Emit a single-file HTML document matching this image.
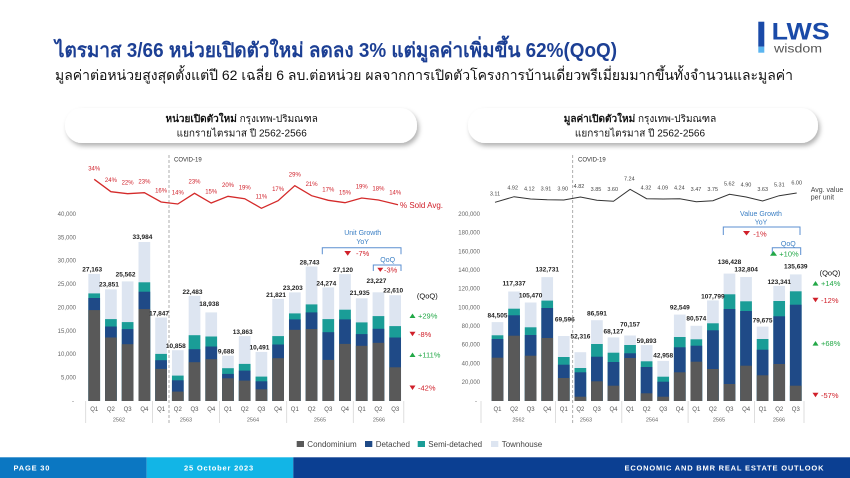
<!DOCTYPE html>
<html>
<head>
<meta charset="utf-8">
<style>
html,body{margin:0;padding:0;background:#fff;}
body{width:850px;height:478px;overflow:hidden;}
svg{display:block;}
text{font-family:"Liberation Sans","DejaVu Sans",sans-serif;}
.c{fill:#595959}.d{fill:#1f4a87}.s{fill:#1a9d97}.t{fill:#dde5f1}
.ax{font-size:6px;fill:#666;}
.q{font-size:6px;fill:#555;text-anchor:middle;}
.yr{font-size:5.5px;fill:#666;text-anchor:middle;}
.v{font-size:6.5px;font-weight:bold;fill:#222;text-anchor:middle;}
.p{font-size:6px;fill:#d0202a;text-anchor:middle;}
.a{font-size:5.5px;fill:#444;text-anchor:middle;}
.red{fill:#d0202a;}.grn{fill:#23a847;}
.bl{font-size:7px;fill:#3b7fc4;text-anchor:middle;}
.qq{font-size:7.5px;}
.ft{font-size:7.5px;font-weight:bold;fill:#fff;letter-spacing:0.8px;}
</style>
</head>
<body>
<svg width="850" height="478" viewBox="0 0 850 478" xmlns="http://www.w3.org/2000/svg">
<defs>
<filter id="sh" x="-10%" y="-40%" width="120%" height="200%">
<feDropShadow dx="2" dy="3" stdDeviation="2.5" flood-color="#000" flood-opacity="0.3"/>
</filter>
</defs>
<rect width="850" height="478" fill="#fff"/>

<!-- Title -->
<text x="55" y="57" font-size="20" font-weight="bold" fill="#1c3f94" textLength="562" lengthAdjust="spacingAndGlyphs">ไตรมาส 3/66 หน่วยเปิดตัวใหม่ ลดลง 3% แต่มูลค่าเพิ่มขึ้น 62%(QoQ)</text>
<text x="55" y="80" font-size="14" fill="#111" textLength="738" lengthAdjust="spacingAndGlyphs">มูลค่าต่อหน่วยสูงสุดตั้งแต่ปี 62 เฉลี่ย 6 ลบ.ต่อหน่วย ผลจากการเปิดตัวโครงการบ้านเดี่ยวพรีเมี่ยมมากขึ้นทั้งจำนวนและมูลค่า</text>

<!-- Logo -->
<rect x="758.3" y="21.7" width="6" height="25" fill="#1a4aa8"/>
<rect x="758.3" y="46.7" width="6" height="6" fill="#5bb5f0"/>
<text x="771.7" y="39.3" font-size="24" font-weight="bold" fill="#1a4aa8" textLength="58" lengthAdjust="spacingAndGlyphs">LWS</text>
<text x="774" y="52.5" font-size="11.5" fill="#555" textLength="48" lengthAdjust="spacingAndGlyphs">wisdom</text>

<!-- Pills -->
<rect x="65" y="108" width="352" height="35" rx="17" fill="#fff" filter="url(#sh)"/>
<rect x="468" y="108" width="350" height="35" rx="17" fill="#fff" filter="url(#sh)"/>
<text x="241.7" y="122" font-size="10" text-anchor="middle" fill="#111"><tspan font-weight="bold">หน่วยเปิดตัวใหม่</tspan> กรุงเทพ-ปริมณฑล</text>
<text x="241.7" y="136.5" font-size="10" text-anchor="middle" fill="#111">แยกรายไตรมาส ปี 2562-2566</text>
<text x="640" y="122" font-size="10" text-anchor="middle" fill="#111"><tspan font-weight="bold">มูลค่าเปิดตัวใหม่</tspan> กรุงเทพ-ปริมณฑล</text>
<text x="640" y="136.5" font-size="10" text-anchor="middle" fill="#111">แยกรายไตรมาส ปี 2562-2566</text>

<!-- ================= LEFT CHART ================= -->
<g class="ax" text-anchor="end">
<text x="76" y="216">40,000</text>
<text x="76" y="239.3">35,000</text>
<text x="76" y="262.7">30,000</text>
<text x="76" y="286">25,000</text>
<text x="76" y="309.4">20,000</text>
<text x="76" y="332.8">15,000</text>
<text x="76" y="356.2">10,000</text>
<text x="76" y="379.6">5,000</text>
<text x="74" y="403">-</text>
</g>

<!-- bars left -->
<g>
<rect class="t" x="88.35" y="273.9" width="11.7" height="127.1"/><rect class="s" x="88.35" y="293.4" width="11.7" height="107.6"/><rect class="d" x="88.35" y="298.0" width="11.7" height="103.0"/><rect class="c" x="88.35" y="310.1" width="11.7" height="90.9"/>
<rect class="t" x="105.07" y="289.4" width="11.7" height="111.6"/><rect class="s" x="105.07" y="319.1" width="11.7" height="81.9"/><rect class="d" x="105.07" y="326.5" width="11.7" height="74.5"/><rect class="c" x="105.07" y="337.5" width="11.7" height="63.5"/>
<rect class="t" x="121.79" y="281.4" width="11.7" height="119.6"/><rect class="s" x="121.79" y="322.1" width="11.7" height="78.9"/><rect class="d" x="121.79" y="329.1" width="11.7" height="71.9"/><rect class="c" x="121.79" y="344.2" width="11.7" height="56.8"/>
<rect class="t" x="138.51" y="242.0" width="11.7" height="159.0"/><rect class="s" x="138.51" y="282.3" width="11.7" height="118.7"/><rect class="d" x="138.51" y="291.7" width="11.7" height="109.3"/><rect class="c" x="138.51" y="309.1" width="11.7" height="91.9"/>
<rect class="t" x="155.23" y="317.5" width="11.7" height="83.5"/><rect class="s" x="155.23" y="353.9" width="11.7" height="47.1"/><rect class="d" x="155.23" y="360.2" width="11.7" height="40.8"/><rect class="c" x="155.23" y="368.9" width="11.7" height="32.1"/>
<rect class="t" x="171.95" y="350.2" width="11.7" height="50.8"/><rect class="s" x="171.95" y="375.6" width="11.7" height="25.4"/><rect class="d" x="171.95" y="380.3" width="11.7" height="20.7"/><rect class="c" x="171.95" y="391.6" width="11.7" height="9.4"/>
<rect class="t" x="188.67" y="295.8" width="11.7" height="105.2"/><rect class="s" x="188.67" y="335.2" width="11.7" height="65.8"/><rect class="d" x="188.67" y="349.2" width="11.7" height="51.8"/><rect class="c" x="188.67" y="362.2" width="11.7" height="38.8"/>
<rect class="t" x="205.39" y="312.4" width="11.7" height="88.6"/><rect class="s" x="205.39" y="336.5" width="11.7" height="64.5"/><rect class="d" x="205.39" y="346.5" width="11.7" height="54.5"/><rect class="c" x="205.39" y="359.2" width="11.7" height="41.8"/>
<rect class="t" x="222.11" y="355.7" width="11.7" height="45.3"/><rect class="s" x="222.11" y="368.2" width="11.7" height="32.8"/><rect class="d" x="222.11" y="373.9" width="11.7" height="27.1"/><rect class="c" x="222.11" y="378.3" width="11.7" height="22.7"/>
<rect class="t" x="238.83" y="336.1" width="11.7" height="64.9"/><rect class="s" x="238.83" y="363.9" width="11.7" height="37.1"/><rect class="d" x="238.83" y="370.6" width="11.7" height="30.4"/><rect class="c" x="238.83" y="380.6" width="11.7" height="20.4"/>
<rect class="t" x="255.55" y="351.9" width="11.7" height="49.1"/><rect class="s" x="255.55" y="376.6" width="11.7" height="24.4"/><rect class="d" x="255.55" y="381.3" width="11.7" height="19.7"/><rect class="c" x="255.55" y="389.3" width="11.7" height="11.7"/>
<rect class="t" x="272.27" y="298.9" width="11.7" height="102.1"/><rect class="s" x="272.27" y="336.1" width="11.7" height="64.9"/><rect class="d" x="272.27" y="344.5" width="11.7" height="56.5"/><rect class="c" x="272.27" y="358.2" width="11.7" height="42.8"/>
<rect class="t" x="288.99" y="292.4" width="11.7" height="108.6"/><rect class="s" x="288.99" y="313.4" width="11.7" height="87.6"/><rect class="d" x="288.99" y="319.4" width="11.7" height="81.6"/><rect class="c" x="288.99" y="329.8" width="11.7" height="71.2"/>
<rect class="t" x="305.71" y="266.5" width="11.7" height="134.5"/><rect class="s" x="305.71" y="304.4" width="11.7" height="96.6"/><rect class="d" x="305.71" y="312.4" width="11.7" height="88.6"/><rect class="c" x="305.71" y="329.1" width="11.7" height="71.9"/>
<rect class="t" x="322.43" y="287.4" width="11.7" height="113.6"/><rect class="s" x="322.43" y="319.1" width="11.7" height="81.9"/><rect class="d" x="322.43" y="332.2" width="11.7" height="68.8"/><rect class="c" x="322.43" y="359.9" width="11.7" height="41.1"/>
<rect class="t" x="339.15" y="274.1" width="11.7" height="126.9"/><rect class="s" x="339.15" y="309.7" width="11.7" height="91.3"/><rect class="d" x="339.15" y="319.4" width="11.7" height="81.6"/><rect class="c" x="339.15" y="343.9" width="11.7" height="57.1"/>
<rect class="t" x="355.87" y="298.3" width="11.7" height="102.7"/><rect class="s" x="355.87" y="322.4" width="11.7" height="78.6"/><rect class="d" x="355.87" y="334.1" width="11.7" height="66.9"/><rect class="c" x="355.87" y="345.8" width="11.7" height="55.2"/>
<rect class="t" x="372.59" y="292.3" width="11.7" height="108.7"/><rect class="s" x="372.59" y="316.1" width="11.7" height="84.9"/><rect class="d" x="372.59" y="328.8" width="11.7" height="72.2"/><rect class="c" x="372.59" y="342.8" width="11.7" height="58.2"/>
<rect class="t" x="389.31" y="295.2" width="11.7" height="105.8"/><rect class="s" x="389.31" y="326.1" width="11.7" height="74.9"/><rect class="d" x="389.31" y="337.5" width="11.7" height="63.5"/><rect class="c" x="389.31" y="367.3" width="11.7" height="33.7"/>
</g>

<!-- value labels left -->
<g class="v">
<text x="92.2" y="271.3">27,163</text>
<text x="108.9" y="286.3">23,851</text>
<text x="125.6" y="276.6">25,562</text>
<text x="142.4" y="239">33,984</text>
<text x="159.1" y="315.5">17,847</text>
<text x="175.8" y="348.2">10,858</text>
<text x="192.5" y="293.8">22,483</text>
<text x="209.2" y="306">18,938</text>
<text x="226" y="353.7">9,688</text>
<text x="242.7" y="334">13,863</text>
<text x="259.4" y="349.3">10,491</text>
<text x="276.1" y="296.9">21,821</text>
<text x="292.8" y="290">23,203</text>
<text x="309.6" y="264.5">28,743</text>
<text x="326.3" y="285.4">24,274</text>
<text x="343" y="272.1">27,120</text>
<text x="359.7" y="295">21,935</text>
<text x="376.4" y="283">23,227</text>
<text x="393.2" y="292.3">22,610</text>
</g>

<!-- x axis left -->
<g stroke="#d6d6d6" stroke-width="0.8">
<line x1="85.7" y1="401" x2="85.7" y2="423"/>
<line x1="152.5" y1="401" x2="152.5" y2="423"/>
<line x1="219.6" y1="401" x2="219.6" y2="423"/>
<line x1="286.7" y1="401" x2="286.7" y2="423"/>
<line x1="353.3" y1="401" x2="353.3" y2="423"/>
<line x1="403.8" y1="401" x2="403.8" y2="423"/>
</g>
<g class="q">
<text x="94.2" y="411">Q1</text><text x="110.9" y="411">Q2</text><text x="127.6" y="411">Q3</text><text x="144.4" y="411">Q4</text>
<text x="161.1" y="411">Q1</text><text x="177.8" y="411">Q2</text><text x="194.5" y="411">Q3</text><text x="211.2" y="411">Q4</text>
<text x="228" y="411">Q1</text><text x="244.7" y="411">Q2</text><text x="261.4" y="411">Q3</text><text x="278.1" y="411">Q4</text>
<text x="294.8" y="411">Q1</text><text x="311.6" y="411">Q2</text><text x="328.3" y="411">Q3</text><text x="345" y="411">Q4</text>
<text x="361.7" y="411">Q1</text><text x="378.4" y="411">Q2</text><text x="395.2" y="411">Q3</text>
</g>
<g class="yr">
<text x="119" y="421.5">2562</text><text x="186" y="421.5">2563</text><text x="253" y="421.5">2564</text><text x="320" y="421.5">2565</text><text x="379" y="421.5">2566</text>
</g>

<!-- covid left -->
<line x1="169" y1="155" x2="169" y2="423" stroke="#9a9a9a" stroke-width="0.8" stroke-dasharray="3,2"/>
<text x="174" y="161.5" font-size="6" fill="#333">COVID-19</text>

<!-- % sold line -->
<polyline fill="none" stroke="#d42a2a" stroke-width="1.3" points="94.2,179.3 110.9,191.7 127.6,193.7 144.4,192.7 161.1,202 177.8,204 194.5,193.3 211.2,203 228,196.3 244.7,198.7 261.4,208.3 278.1,200.7 294.8,185.7 311.6,195.7 328.3,200.3 345,202.7 361.7,198 378.4,200 398,204.7"/>
<g class="p">
<text x="94.2" y="170.3">34%</text><text x="110.9" y="182">24%</text><text x="127.6" y="184.7">22%</text><text x="144.4" y="183.7">23%</text>
<text x="161.1" y="192.7">16%</text><text x="177.8" y="194.7">14%</text><text x="194.5" y="183.7">23%</text><text x="211.2" y="193.7">15%</text>
<text x="228" y="187">20%</text><text x="244.7" y="189.3">19%</text><text x="261.4" y="198.7">11%</text><text x="278.1" y="191">17%</text>
<text x="294.8" y="176.3">29%</text><text x="311.6" y="186">21%</text><text x="328.3" y="191.3">17%</text><text x="345" y="194.3">15%</text>
<text x="361.7" y="188.7">19%</text><text x="378.4" y="190.7">18%</text><text x="395.2" y="194.7">14%</text>
</g>
<text x="400" y="208" font-size="8" fill="#d0202a">% Sold Avg.</text>

<!-- unit growth annotation -->
<text class="bl" x="362.7" y="235">Unit Growth</text>
<text class="bl" x="362.7" y="244">YoY</text>
<path d="M322.3,254.3 V247.7 H401 V254.3" fill="none" stroke="#5b8fd0" stroke-width="1"/>
<polygon class="red" points="344.3,251 351,251 347.7,255.7"/>
<text x="356" y="256" font-size="7.5" fill="#d0202a">-7%</text>
<text class="bl" x="387.7" y="262">QoQ</text>
<path d="M373.3,271 V265 H401 V271" fill="none" stroke="#5b8fd0" stroke-width="1"/>
<polygon class="red" points="377.3,267.7 383.3,267.7 380.3,271.9"/>
<text x="384" y="272.5" font-size="7.5" fill="#d0202a">-3%</text>

<!-- QoQ column left -->
<text x="427.3" y="298.5" font-size="7.5" fill="#111" text-anchor="middle">(QoQ)</text>
<polygon class="grn" points="409.5,318 415.5,318 412.5,313.5"/>
<text class="qq grn" x="418" y="318.5">+29%</text>
<polygon class="red" points="409.5,331.8 415.5,331.8 412.5,336.3"/>
<text class="qq red" x="418" y="337">-8%</text>
<polygon class="grn" points="409.5,357 415.5,357 412.5,352.5"/>
<text class="qq grn" x="418" y="357.5">+111%</text>
<polygon class="red" points="409.5,385.5 415.5,385.5 412.5,390"/>
<text class="qq red" x="418" y="390.5">-42%</text>

<!-- ================= RIGHT CHART ================= -->
<g class="ax" text-anchor="end">
<text x="480" y="216">200,000</text>
<text x="480" y="234.7">180,000</text>
<text x="480" y="253.3">160,000</text>
<text x="480" y="272">140,000</text>
<text x="480" y="290.7">120,000</text>
<text x="480" y="309.3">100,000</text>
<text x="480" y="328">80,000</text>
<text x="480" y="346.7">60,000</text>
<text x="480" y="365.3">40,000</text>
<text x="480" y="384">20,000</text>
<text x="477" y="403">-</text>
</g>

<g>
<rect class="t" x="491.65" y="322.1" width="11.7" height="78.9"/><rect class="s" x="491.65" y="335.3" width="11.7" height="65.7"/><rect class="d" x="491.65" y="339.0" width="11.7" height="62.0"/><rect class="c" x="491.65" y="357.7" width="11.7" height="43.3"/>
<rect class="t" x="508.22" y="291.5" width="11.7" height="109.5"/><rect class="s" x="508.22" y="308.7" width="11.7" height="92.3"/><rect class="d" x="508.22" y="315.3" width="11.7" height="85.7"/><rect class="c" x="508.22" y="335.7" width="11.7" height="65.3"/>
<rect class="t" x="524.79" y="302.5" width="11.7" height="98.5"/><rect class="s" x="524.79" y="327.3" width="11.7" height="73.7"/><rect class="d" x="524.79" y="335.0" width="11.7" height="66.0"/><rect class="c" x="524.79" y="355.7" width="11.7" height="45.3"/>
<rect class="t" x="541.36" y="277.1" width="11.7" height="123.9"/><rect class="s" x="541.36" y="300.6" width="11.7" height="100.4"/><rect class="d" x="541.36" y="308.0" width="11.7" height="93.0"/><rect class="c" x="541.36" y="338.0" width="11.7" height="63.0"/>
<rect class="t" x="557.93" y="336.0" width="11.7" height="65.0"/><rect class="s" x="557.93" y="357.0" width="11.7" height="44.0"/><rect class="d" x="557.93" y="364.7" width="11.7" height="36.3"/><rect class="c" x="557.93" y="378.0" width="11.7" height="23.0"/>
<rect class="t" x="574.5" y="352.2" width="11.7" height="48.8"/><rect class="s" x="574.5" y="368.0" width="11.7" height="33.0"/><rect class="d" x="574.5" y="372.3" width="11.7" height="28.7"/><rect class="c" x="574.5" y="396.7" width="11.7" height="4.3"/>
<rect class="t" x="591.07" y="320.2" width="11.7" height="80.8"/><rect class="s" x="591.07" y="344.0" width="11.7" height="57.0"/><rect class="d" x="591.07" y="356.7" width="11.7" height="44.3"/><rect class="c" x="591.07" y="381.3" width="11.7" height="19.7"/>
<rect class="t" x="607.64" y="337.4" width="11.7" height="63.6"/><rect class="s" x="607.64" y="352.7" width="11.7" height="48.3"/><rect class="d" x="607.64" y="362.0" width="11.7" height="39.0"/><rect class="c" x="607.64" y="385.7" width="11.7" height="15.3"/>
<rect class="t" x="624.21" y="335.5" width="11.7" height="65.5"/><rect class="s" x="624.21" y="345.0" width="11.7" height="56.0"/><rect class="d" x="624.21" y="353.3" width="11.7" height="47.7"/><rect class="c" x="624.21" y="358.0" width="11.7" height="43.0"/>
<rect class="t" x="640.78" y="345.1" width="11.7" height="55.9"/><rect class="s" x="640.78" y="361.3" width="11.7" height="39.7"/><rect class="d" x="640.78" y="367.0" width="11.7" height="34.0"/><rect class="c" x="640.78" y="393.3" width="11.7" height="7.7"/>
<rect class="t" x="657.35" y="360.9" width="11.7" height="40.1"/><rect class="s" x="657.35" y="376.7" width="11.7" height="24.3"/><rect class="d" x="657.35" y="381.7" width="11.7" height="19.3"/><rect class="c" x="657.35" y="396.7" width="11.7" height="4.3"/>
<rect class="t" x="673.92" y="314.6" width="11.7" height="86.4"/><rect class="s" x="673.92" y="337.0" width="11.7" height="64.0"/><rect class="d" x="673.92" y="347.3" width="11.7" height="53.7"/><rect class="c" x="673.92" y="372.3" width="11.7" height="28.7"/>
<rect class="t" x="690.49" y="325.8" width="11.7" height="75.2"/><rect class="s" x="690.49" y="339.3" width="11.7" height="61.7"/><rect class="d" x="690.49" y="345.7" width="11.7" height="55.3"/><rect class="c" x="690.49" y="361.7" width="11.7" height="39.3"/>
<rect class="t" x="707.06" y="300.4" width="11.7" height="100.6"/><rect class="s" x="707.06" y="323.3" width="11.7" height="77.7"/><rect class="d" x="707.06" y="330.3" width="11.7" height="70.7"/><rect class="c" x="707.06" y="369.0" width="11.7" height="32.0"/>
<rect class="t" x="723.63" y="273.6" width="11.7" height="127.4"/><rect class="s" x="723.63" y="294.3" width="11.7" height="106.7"/><rect class="d" x="723.63" y="309.0" width="11.7" height="92.0"/><rect class="c" x="723.63" y="384.0" width="11.7" height="17.0"/>
<rect class="t" x="740.2" y="277.0" width="11.7" height="124.0"/><rect class="s" x="740.2" y="301.3" width="11.7" height="99.7"/><rect class="d" x="740.2" y="311.0" width="11.7" height="90.0"/><rect class="c" x="740.2" y="365.7" width="11.7" height="35.3"/>
<rect class="t" x="756.77" y="326.6" width="11.7" height="74.4"/><rect class="s" x="756.77" y="339.0" width="11.7" height="62.0"/><rect class="d" x="756.77" y="349.7" width="11.7" height="51.3"/><rect class="c" x="756.77" y="375.3" width="11.7" height="25.7"/>
<rect class="t" x="773.34" y="285.9" width="11.7" height="115.1"/><rect class="s" x="773.34" y="301.0" width="11.7" height="100.0"/><rect class="d" x="773.34" y="316.3" width="11.7" height="84.7"/><rect class="c" x="773.34" y="364.0" width="11.7" height="37.0"/>
<rect class="t" x="789.91" y="274.4" width="11.7" height="126.6"/><rect class="s" x="789.91" y="291.3" width="11.7" height="109.7"/><rect class="d" x="789.91" y="304.7" width="11.7" height="96.3"/><rect class="c" x="789.91" y="385.7" width="11.7" height="15.3"/>
</g>

<g class="v">
<text x="497.5" y="317.3">84,505</text>
<text x="514.1" y="285.6">117,337</text>
<text x="530.6" y="297.6">105,470</text>
<text x="547.2" y="271.3">132,731</text>
<text x="564.8" y="321.6">69,596</text>
<text x="580.4" y="338.3">52,316</text>
<text x="596.9" y="315.6">86,591</text>
<text x="613.5" y="333.3">68,127</text>
<text x="630.1" y="326.3">70,157</text>
<text x="646.6" y="343.1">59,893</text>
<text x="663.2" y="357.3">42,958</text>
<text x="679.8" y="309.6">92,549</text>
<text x="696.3" y="320.6">80,574</text>
<text x="712.9" y="298.4">107,799</text>
<text x="729.5" y="264">136,428</text>
<text x="746.1" y="271.6">132,804</text>
<text x="762.6" y="322.3">79,675</text>
<text x="779.2" y="283.9">123,341</text>
<text x="795.8" y="268.3">135,639</text>
</g>

<g stroke="#d6d6d6" stroke-width="0.8">
<line x1="481" y1="401" x2="481" y2="423"/>
<line x1="555.5" y1="401" x2="555.5" y2="423"/>
<line x1="621.8" y1="401" x2="621.8" y2="423"/>
<line x1="688.1" y1="401" x2="688.1" y2="423"/>
<line x1="754.4" y1="401" x2="754.4" y2="423"/>
<line x1="804" y1="401" x2="804" y2="423"/>
</g>
<g class="q">
<text x="497.5" y="411">Q1</text><text x="514.1" y="411">Q2</text><text x="530.6" y="411">Q3</text><text x="547.2" y="411">Q4</text>
<text x="563.8" y="411">Q1</text><text x="580.4" y="411">Q2</text><text x="596.9" y="411">Q3</text><text x="613.5" y="411">Q4</text>
<text x="630.1" y="411">Q1</text><text x="646.6" y="411">Q2</text><text x="663.2" y="411">Q3</text><text x="679.8" y="411">Q4</text>
<text x="696.3" y="411">Q1</text><text x="712.9" y="411">Q2</text><text x="729.5" y="411">Q3</text><text x="746.1" y="411">Q4</text>
<text x="762.6" y="411">Q1</text><text x="779.2" y="411">Q2</text><text x="795.8" y="411">Q3</text>
</g>
<g class="yr">
<text x="518.5" y="421.5">2562</text><text x="586" y="421.5">2563</text><text x="652" y="421.5">2564</text><text x="719" y="421.5">2565</text><text x="779" y="421.5">2566</text>
</g>

<line x1="572.7" y1="155" x2="572.7" y2="423" stroke="#9a9a9a" stroke-width="0.8" stroke-dasharray="3,2"/>
<text x="578" y="161.5" font-size="6" fill="#333">COVID-19</text>

<polyline fill="none" stroke="#333" stroke-width="1" points="495,202.3 514.1,196.7 530.6,199 547.2,199.7 563.8,200 580.4,197 596.9,200.3 613.5,201.3 630.1,189.3 646.6,198.7 663.2,199 679.8,198.7 696.3,201.7 712.9,200.7 729.5,194.3 746.1,197 762.6,201 779.2,195.7 796.7,193"/>
<g class="a">
<text x="495" y="195.3">3.11</text><text x="512.7" y="189.7">4.92</text><text x="529.3" y="190.3">4.12</text><text x="546" y="190.3">3.91</text>
<text x="562.7" y="190.3">3.90</text><text x="579" y="188">4.82</text><text x="596" y="191">3.85</text><text x="612.7" y="191">3.60</text>
<text x="629.3" y="180.3">7.24</text><text x="646" y="189.7">4.32</text><text x="662.7" y="189.7">4.09</text><text x="679.3" y="189.7">4.24</text>
<text x="696" y="191">3.47</text><text x="712.7" y="191">3.75</text><text x="729.3" y="185.3">5.62</text><text x="746" y="186.7">4.90</text>
<text x="762.7" y="191">3.63</text><text x="779.3" y="186.7">5.31</text><text x="796.7" y="184.7">6.00</text>
</g>
<text x="810.7" y="192" font-size="7" fill="#444">Avg. value</text>
<text x="810.7" y="199.5" font-size="7" fill="#444">per unit</text>

<text class="bl" x="761" y="216">Value Growth</text>
<text class="bl" x="761" y="224.5">YoY</text>
<path d="M723.3,235 V227 H800 V235" fill="none" stroke="#5b8fd0" stroke-width="1"/>
<polygon class="red" points="743,231 750,231 746.5,235.5"/>
<text x="753.3" y="236.5" font-size="7.5" fill="#d0202a">-1%</text>
<text class="bl" x="788.3" y="246">QoQ</text>
<path d="M772.3,255 V247.7 H800.7 V255" fill="none" stroke="#5b8fd0" stroke-width="1"/>
<polygon class="grn" points="770,255.7 777,255.7 773.5,251"/>
<text x="779.3" y="256.3" font-size="7.5" fill="#23a847">+10%</text>

<text x="830" y="275.5" font-size="7.5" fill="#111" text-anchor="middle">(QoQ)</text>
<polygon class="grn" points="812.5,285.6 818.5,285.6 815.5,281"/>
<text class="qq grn" x="821" y="286">+14%</text>
<polygon class="red" points="812.5,297.8 818.5,297.8 815.5,302.3"/>
<text class="qq red" x="821" y="303">-12%</text>
<polygon class="grn" points="812.5,345.6 818.5,345.6 815.5,341"/>
<text class="qq grn" x="821" y="346">+68%</text>
<polygon class="red" points="812.5,392.8 818.5,392.8 815.5,397.3"/>
<text class="qq red" x="821" y="398">-57%</text>

<!-- Legend -->
<rect x="296.7" y="441" width="7.3" height="6" fill="#595959"/>
<text x="307.3" y="447" font-size="8" fill="#444">Condominium</text>
<rect x="365" y="441" width="7.3" height="6" fill="#1f4a87"/>
<text x="375.7" y="447" font-size="8" fill="#444">Detached</text>
<rect x="417.7" y="441" width="7.3" height="6" fill="#1a9d97"/>
<text x="428.3" y="447" font-size="8" fill="#444">Semi-detached</text>
<rect x="491" y="441" width="7.3" height="6" fill="#dde5f1"/>
<text x="501.7" y="447" font-size="8" fill="#444">Townhouse</text>

<!-- Footer -->
<rect x="0" y="457.3" width="146.7" height="20.7" fill="#0b77c2"/>
<rect x="146.7" y="457.3" width="146.6" height="20.7" fill="#12b5e6"/>
<rect x="293.3" y="457.3" width="556.7" height="20.7" fill="#0b3f92"/>
<text class="ft" x="13.5" y="470.3">PAGE 30</text>
<text class="ft" x="219" y="470.3" text-anchor="middle">25 October 2023</text>
<text class="ft" x="824.3" y="470.3" text-anchor="end">ECONOMIC AND BMR REAL ESTATE OUTLOOK</text>
</svg>
</body>
</html>
